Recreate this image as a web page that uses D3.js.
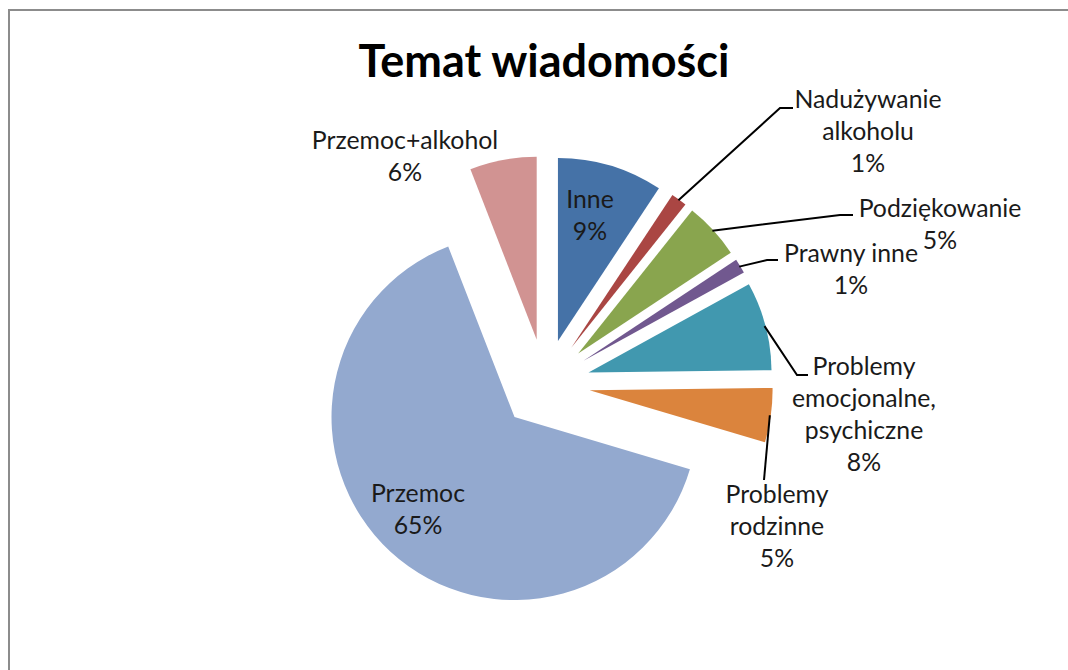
<!DOCTYPE html>
<html lang="pl">
<head>
  <meta charset="UTF-8" />
  <title>Temat wiadomości</title>
  <script src="https://d3js.org/d3.v7.min.js"></script>
  <style>
    body {
      margin: 0;
      background: #ffffff;
      font-family: 'Lato', 'Open Sans', sans-serif;
    }
    svg { display: block; }
    .label { font-size: 24.8px; fill: #1a1a1a; }
    .title { font-size: 45px; font-weight: 700; fill: #000; }
  </style>
</head>
<body>
  <svg id="chart" width="1068" height="670"></svg>

  <script>
    // data (share of messages, %)
    const categories = [
      "Inne",
      "Nadużywanie|alkoholu",
      "Podziękowanie",
      "Prawny inne",
      "Problemy|emocjonalne,|psychiczne",
      "Problemy|rodzinne",
      "Przemoc",
      "Przemoc+alkohol"
    ];
    const values = [9.3, 1.4, 5.0, 1.3, 7.8, 4.8, 64.5, 5.9];
    const colors = ["#4572A7", "#AA4643", "#89A54E", "#71588F", "#4198AF", "#DB843D", "#93A9CF", "#D19392"];

    // label layout: text centre / first baseline, leader elbow and end (null = no leader)
    const labelLayout = [
      { x: 590, y: 208, leader: null },
      { x: 868, y: 108, leader: [[780, 108], [793, 108]] },
      { x: 940, y: 217, leader: [[840, 215], [853, 215]] },
      { x: 851, y: 262, leader: [[767, 260], [778, 260]] },
      { x: 864, y: 375, leader: [[797, 375], [808, 375]] },
      { x: 777, y: 503, leader: [[764, 480]] },
      { x: 418, y: 502, leader: null },
      { x: 405, y: 149, leader: null }
    ];

    const width = 1068, height = 670;
    const cx = 545, cy = 384, radius = 183, explode = 45;
    const lineH = 32;

    const svg = d3.select("#chart");

    // frame (top and left edges visible in the crop)
    svg.append("path")
      .attr("d", `M9,${height} V10 H${width}`)
      .attr("fill", "none")
      .attr("stroke", "#8c8c8c")
      .attr("stroke-width", 2);

    svg.append("text")
      .attr("class", "title")
      .attr("x", 544)
      .attr("y", 77)
      .attr("text-anchor", "middle")
      .text("Temat wiadomości");

    const pie = d3.pie().sort(null).value(d => d)
      .startAngle(0).endAngle(2 * Math.PI);
    const arcs = pie(values);
    const arc = d3.arc().innerRadius(0).outerRadius(radius);

    const offset = d => {
      const a = (d.startAngle + d.endAngle) / 2;
      return [Math.sin(a) * explode, -Math.cos(a) * explode];
    };

    const g = svg.append("g").attr("transform", `translate(${cx},${cy})`);

    g.selectAll("path.slice")
      .data(arcs)
      .enter().append("path")
      .attr("class", "slice")
      .attr("d", arc)
      .attr("fill", (d, i) => colors[i])
      .attr("transform", d => `translate(${offset(d)})`);

    // leader lines from the middle of each slice's outer edge
    arcs.forEach((d, i) => {
      const lay = labelLayout[i];
      if (!lay.leader) return;
      const a = (d.startAngle + d.endAngle) / 2;
      const r = radius + explode - 1;
      const start = [cx + Math.sin(a) * r, cy - Math.cos(a) * r];
      svg.append("path")
        .attr("d", d3.line()([start, ...lay.leader]))
        .attr("fill", "none")
        .attr("stroke", "#000")
        .attr("stroke-width", 2);
    });

    // labels
    arcs.forEach((d, i) => {
      const lay = labelLayout[i];
      const lines = categories[i].split("|").concat([Math.round(values[i]) + "%"]);
      const t = svg.append("text")
        .attr("class", "label")
        .attr("text-anchor", "middle");
      lines.forEach((ln, k) => {
        t.append("tspan")
          .attr("x", lay.x)
          .attr("y", lay.y + k * lineH)
          .text(ln);
      });
    });
  </script>
</body>
</html>
